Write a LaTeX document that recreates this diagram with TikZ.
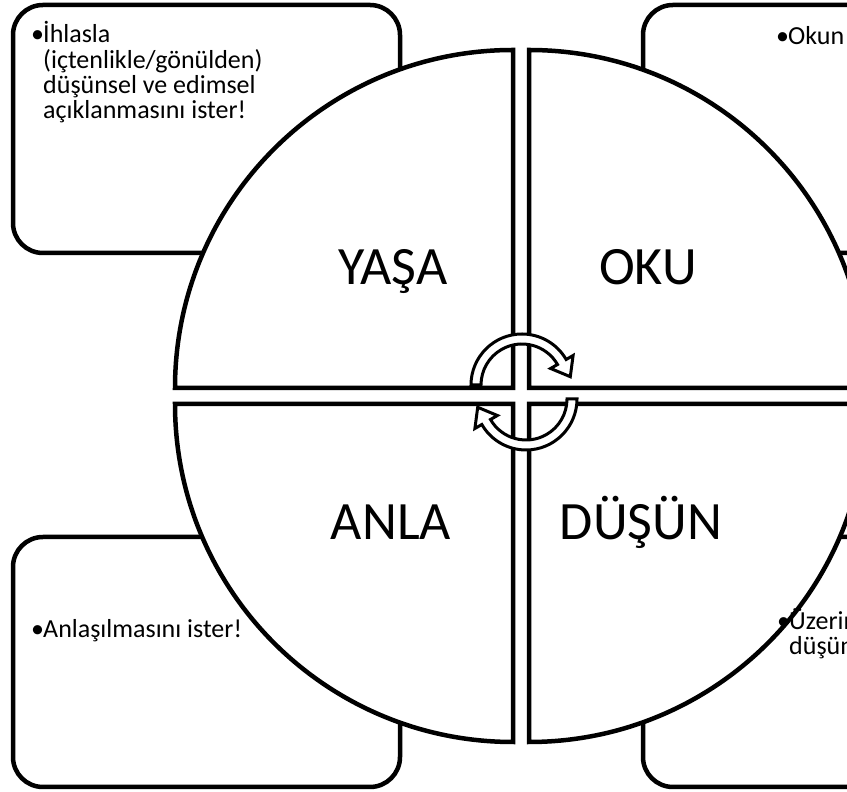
\documentclass[tikz,border=0pt]{standalone}
\usepackage{fontspec}
\setmainfont{Carlito}
\usetikzlibrary{positioning}

\tikzset{
  quarter/.style={draw=black, fill=white, line width=4.5pt, line join=miter},
  infobox/.style={draw=black, line width=4.5pt, rounded corners=30pt},
  cyclearrow/.style={draw=black, fill=white, line width=3pt, line join=miter},
  boxtext/.style={font=\fontsize{26}{22.4}\selectfont, align=left, inner sep=0pt, anchor=base west},
  bigtext/.style={font=\fontsize{54}{64}\selectfont, inner sep=0pt, anchor=base},
}

\begin{document}
\begin{tikzpicture}[x=1pt,y=1pt]
        \useasboundingbox (0,0) rectangle (847,792);
        \clip (0,0) rectangle (847,792);

        % boxes behind the circle
        \draw[infobox] (13,539) rectangle (400,787);
        \draw[infobox] (643,539) rectangle (1029,787);
        \draw[infobox] (13,5) rectangle (400,255);
        \draw[infobox] (643,5) rectangle (1029,255);

        % four quarters
        \draw[quarter] (513,404) -- (175,404) arc[start angle=180, end angle=90, radius=338] -- cycle;
        \draw[quarter] (529,404) -- (529,742) arc[start angle=90, end angle=0, radius=338] -- cycle;
        \draw[quarter] (513,388) -- (175,388) arc[start angle=180, end angle=270, radius=338] -- cycle;
        \draw[quarter] (529,388) -- (867,388) arc[start angle=0, end angle=-90, radius=338] -- cycle;

        % cycle arrows
        \foreach \cx/\cy/\r in {522/407/0, 526/393/180} {
            \begin{scope}[shift={(\cx,\cy)}, rotate=\r]
                \draw[cyclearrow] (180:51) arc[start angle=180, end angle=30, radius=51]
                    -- (30:59) -- (48.3,8.3) -- (30:33) -- (30:41)
                    arc[start angle=30, end angle=180, radius=41] -- cycle;
            \end{scope}
        }

        \node[bigtext] (yasa) at (393,507) {YAŞA};
        \node[bigtext] (oku) at (648,507) {OKU};
        \node[bigtext] (anla) at (391,252) {ANLA};
        \node[bigtext] (dusun) at (641,252) {DÜŞÜN};

        \node[boxtext] (yasanote) at (31,749) {%
            \begin{tabular}[t]{@{}p{12pt}@{}l@{}}
            •&İhlasla\\
            &(içtenlikle/gönülden)\\
            &düşünsel ve edimsel\\
            &açıklanmasını ister!
            \end{tabular}};
        \node[boxtext] (okunote) at (776,747) {%
            \begin{tabular}[t]{@{}p{12pt}@{}l@{}}
            •&Okun
            \end{tabular}};
        \node[boxtext] (anlanote) at (31,154) {%
            \begin{tabular}[t]{@{}p{12pt}@{}l@{}}
            •&Anlaşılmasını ister!
            \end{tabular}};
        \node[boxtext] (dusunnote) at (777,162) {%
            \begin{tabular}[t]{@{}p{12pt}@{}l@{}}
            •&Üzerin\\
            &düşün
            \end{tabular}};
    \end{tikzpicture}
\end{document}
